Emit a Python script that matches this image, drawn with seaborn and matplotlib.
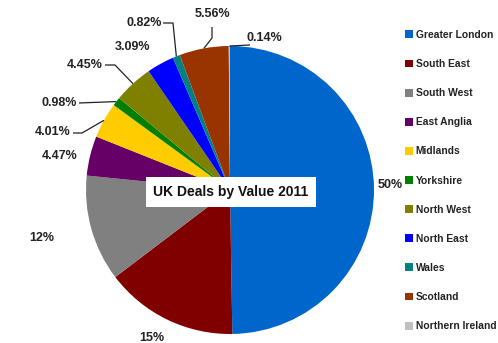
import matplotlib
matplotlib.use("Agg")
import matplotlib.pyplot as plt
import seaborn as sns
import numpy as np

# Regional share of UK deal value, 2011
regions = ["Greater London", "South East", "South West", "East Anglia", "Midlands",
           "Yorkshire", "North West", "North East", "Wales", "Scotland", "Northern Ireland"]
shares = [50, 15, 12, 4.47, 4.01, 0.98, 4.45, 3.09, 0.82, 5.56, 0.14]
value_labels = ["50%", "15%", "12%", "4.47%", "4.01%", "0.98%", "4.45%", "3.09%",
                "0.82%", "5.56%", "0.14%"]
colors = ["#0066CC", "#800000", "#808080", "#660066", "#FFCC00", "#008000",
          "#808000", "#0000FF", "#008080", "#993300", "#C0C0C0"]
title = "UK Deals by Value 2011"

sns.set_theme(style="white")
plt.rcParams["font.family"] = ["Liberation Sans", "DejaVu Sans"]

W, H = 498, 343
fig = plt.figure(figsize=(W / 100, H / 100), dpi=100)
ax = fig.add_axes([0, 0, 1, 1])

# work in pixel-like units (y measured from the bottom)
cx, cy, r = 230, H - 190, 144
wedges, _ = ax.pie(shares, colors=colors, startangle=90, counterclock=False,
                   center=(cx, cy), radius=r, frame=True,
                   wedgeprops=dict(linewidth=0))
ax.set_xlim(0, W)
ax.set_ylim(0, H)
ax.set_aspect("equal")
ax.axis("off")

# label placement (x, y from top of canvas)
label_pos = [(390, 185), (152, 338), (42, 238), (60, 156), (53, 132), (59, 103),
             (85, 65), (133, 47), (144, 23), (212, 14), (264, 38)]
# leader line start/elbow points for the labels that sit away from their slice
leaders = {
    4: [(73, 133), (82, 133)],
    5: [(79, 103)],
    6: [(105, 65), (115, 65)],
    8: [(163, 23), (173, 23)],
    9: [(212, 27), (212, 38)],
    10: [(250, 45)],
}

for i, (w, lab) in enumerate(zip(wedges, value_labels)):
    x, y = label_pos[i]
    ax.text(x, H - y, lab, ha="center", va="center", fontsize=9,
            fontweight="bold", color="#222222")
    if i in leaders:
        mid = np.deg2rad((w.theta1 + w.theta2) / 2)
        rim = (cx + r * np.cos(mid), cy + r * np.sin(mid))
        pts = [(px, H - py) for px, py in leaders[i]] + [rim]
        xs, ys = zip(*pts)
        ax.plot(xs, ys, color="#222222", lw=0.9, solid_capstyle="butt")

ax.text(231, H - 192, title, ha="center", va="center", fontsize=10,
        fontweight="bold", color="#111111",
        bbox=dict(boxstyle="square,pad=0.55", facecolor="white", edgecolor="none"))

ax.legend(wedges, regions, loc="upper left",
          bbox_to_anchor=(405 / W, 1 - 30 / H), frameon=False,
          prop=dict(size=7.4, weight="bold"), handlelength=0.8, handleheight=0.8,
          handletextpad=0.25, labelspacing=1.86, borderpad=0, borderaxespad=0,
          labelcolor="#222222")

fig.savefig("out.png", dpi=100, facecolor="white")
